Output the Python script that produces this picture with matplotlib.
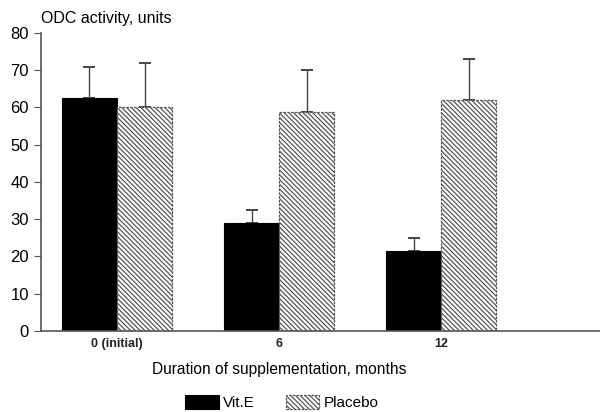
import matplotlib.pyplot as plt
import numpy as np

plt.rcParams['font.family'] = ['Liberation Sans', 'DejaVu Sans']
plt.rcParams['hatch.linewidth'] = 0.9

# data
groups = ["0 (initial)", "6", "12"]
vite = [62.5, 29.0, 21.5]
vite_err = [8.3, 3.5, 3.5]
placebo = [60.2, 58.8, 62.1]
placebo_err = [11.8, 11.2, 11.0]

fig = plt.figure(figsize=(6, 4.12), dpi=100)
ax = fig.add_axes([0.068, 0.197, 0.932, 0.723])

x = np.arange(len(groups))
w = 0.34

ax.bar(x - w / 2, vite, w, color="black", edgecolor="black", linewidth=0.8,
       label="Vit.E", zorder=2)
ax.bar(x + w / 2, placebo, w, color="white", edgecolor="#555555", hatch="\\\\\\\\\\\\\\",
       linewidth=0.9, linestyle=(0, (2, 1)), label="Placebo", zorder=2)

# upper error bars only
ax.errorbar(x - w / 2, vite, yerr=[np.zeros(3), vite_err], fmt="none",
            ecolor="#444444", elinewidth=1, capsize=4, capthick=1.4, zorder=1)
ax.errorbar(x + w / 2, placebo, yerr=[np.zeros(3), placebo_err], fmt="none",
            ecolor="#444444", elinewidth=1, capsize=4, capthick=1.4, zorder=1)

ax.set_xlim(-0.47, 2.98)
ax.set_ylim(0, 80)
ax.set_yticks(range(0, 81, 10))
ax.set_xticks(x)
ax.set_xticklabels(groups, fontsize=9, fontweight="bold", color="#222222")
ax.tick_params(axis="x", length=0, pad=5)
ax.tick_params(axis="y", labelsize=12, length=5, color="#555555")

for s in ["top", "right"]:
    ax.spines[s].set_visible(False)
for s in ["left", "bottom"]:
    ax.spines[s].set_color("#555555")
    ax.spines[s].set_linewidth(1.2)

ax.set_xlabel("Duration of supplementation, months", fontsize=11.2, labelpad=10)
ax.xaxis.set_label_coords(0.426, -0.105)
fig.text(0.068, 0.955, "ODC activity, units", fontsize=11.5, ha="left", va="center")

fig.legend(loc="center", bbox_to_anchor=(0.47, 0.022), ncol=2, frameon=False,
           fontsize=11, handlelength=2.2, handleheight=1.0, columnspacing=2,
           handletextpad=0.3)

fig.savefig("out.png", dpi=100)
